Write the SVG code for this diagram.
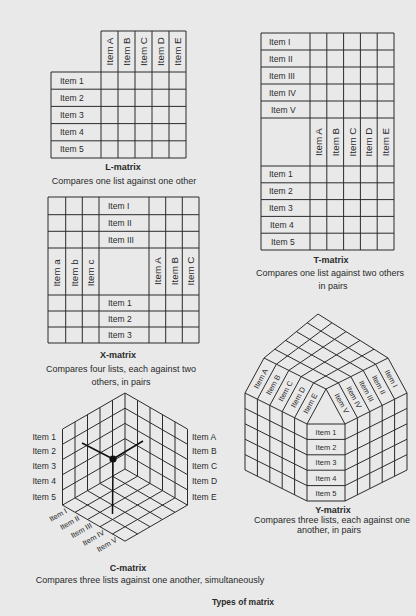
<svg xmlns="http://www.w3.org/2000/svg" width="416" height="616" viewBox="0 0 416 616">
<style>
.g{fill:none;stroke:#2b2b2b;stroke-width:1}
.t{font-family:"Liberation Sans",Arial,sans-serif;font-size:8.5px;fill:#2a2a2a}
.s{font-size:7.5px}
.r{font-size:9.8px}
.m{text-anchor:middle}
.e{text-anchor:end}
.cap{font-family:"Liberation Sans",Arial,sans-serif;font-size:9px;fill:#2a2a2a;text-anchor:middle}
.ttl{font-weight:bold}
</style>
<rect width="416" height="616" fill="#e9e9e9"/>

<g id="l-matrix">
<path class="g" d="M101,31H186 M51,72H186 M51,89.2H186 M51,106.4H186 M51,123.6H186 M51,140.8H186 M51,158H186 M51,72V158 M101,31V158 M118,31V158 M135,31V158 M152,31V158 M169,31V158 M186,31V158"/>
<g class="t">
<text x="60" y="83.6">Item 1</text><text x="60" y="100.8">Item 2</text><text x="60" y="118">Item 3</text><text x="60" y="135.2">Item 4</text><text x="60" y="152.4">Item 5</text>
</g>
<g class="t r m">
<text transform="translate(109.5,51.5) rotate(-90)" dy="3.5">Item A</text>
<text transform="translate(126.5,51.5) rotate(-90)" dy="3.5">Item B</text>
<text transform="translate(143.5,51.5) rotate(-90)" dy="3.5">Item C</text>
<text transform="translate(160.5,51.5) rotate(-90)" dy="3.5">Item D</text>
<text transform="translate(177.5,51.5) rotate(-90)" dy="3.5">Item E</text>
</g>
<text class="cap ttl" x="123" y="170">L-matrix</text>
<text class="cap" x="124" y="184">Compares one list against one other</text>
</g>

<g id="t-matrix">
<path class="g" d="M261,33H394 M261,50H394 M261,67H394 M261,84H394 M261,101H394 M261,118H394 M261,166H394 M261,182.8H394 M261,199.6H394 M261,216.4H394 M261,233.2H394 M261,250H394 M261,33V250 M310,33V250 M326.8,33V250 M343.6,33V250 M360.4,33V250 M377.2,33V250 M394,33V250"/>
<g class="t">
<text x="269" y="44.5">Item I</text><text x="269" y="61.5">Item II</text><text x="269" y="78.5">Item III</text><text x="269" y="95.5">Item IV</text><text x="271" y="112.5">Item V</text>
<text x="269" y="177.4">Item 1</text><text x="269" y="194.2">Item 2</text><text x="269" y="211">Item 3</text><text x="270" y="227.8">Item 4</text><text x="271" y="244.6">Item 5</text>
</g>
<g class="t r m">
<text transform="translate(318.4,142) rotate(-90)" dy="3.5">Item A</text>
<text transform="translate(335.2,142) rotate(-90)" dy="3.5">Item B</text>
<text transform="translate(352,142) rotate(-90)" dy="3.5">Item C</text>
<text transform="translate(368.8,142) rotate(-90)" dy="3.5">Item D</text>
<text transform="translate(385.6,142) rotate(-90)" dy="3.5">Item E</text>
</g>
<text class="cap ttl" x="331" y="263">T-matrix</text>
<text class="cap" x="330" y="276">Compares one list against two others</text>
<text class="cap" x="333" y="289">in pairs</text>
</g>

<g id="x-matrix">
<path class="g" d="M48,197H199 M48,214.7H199 M48,231.3H199 M48,248H199 M48,295H199 M48,311H199 M48,327H199 M48,343H199 M48,197V343 M65.7,197V343 M82.3,197V343 M99,197V343 M149,197V343 M165.7,197V343 M182.3,197V343 M199,197V343"/>
<g class="t">
<text x="108" y="208.8">Item I</text><text x="108" y="226">Item II</text><text x="108" y="242.7">Item III</text>
<text x="108" y="306">Item 1</text><text x="108" y="322">Item 2</text><text x="108" y="338">Item 3</text>
</g>
<g class="t r m">
<text transform="translate(56.8,273) rotate(-90)" dy="3.5">Item a</text>
<text transform="translate(74,273) rotate(-90)" dy="3.5">Item b</text>
<text transform="translate(90.7,273) rotate(-90)" dy="3.5">Item c</text>
<text transform="translate(157.3,271) rotate(-90)" dy="3.5">Item A</text>
<text transform="translate(174,271) rotate(-90)" dy="3.5">Item B</text>
<text transform="translate(190.7,271) rotate(-90)" dy="3.5">Item C</text>
</g>
<text class="cap ttl" x="118" y="357.5">X-matrix</text>
<text class="cap" x="121" y="372">Compares four lists, each against two</text>
<text class="cap" x="121" y="384.5">others, in pairs</text>
</g>

<g id="c-matrix">
<path class="g" d="M62.5,429.08V505.08 M75,421.86V497.86 M87.5,414.65V490.65 M100,407.43V483.43 M112.5,400.22V476.22 M125,393V469
M62.5,429.08L125,393 M62.5,444.28L125,408.2 M62.5,459.48L125,423.4 M62.5,474.68L125,438.6 M62.5,489.88L125,453.8 M62.5,505.08L125,469
M187.5,429.08V505.08 M175,421.86V497.86 M162.5,414.65V490.65 M150,407.43V483.43 M137.5,400.22V476.22
M187.5,429.08L125,393 M187.5,444.28L125,408.2 M187.5,459.48L125,423.4 M187.5,474.68L125,438.6 M187.5,489.88L125,453.8 M187.5,505.08L125,469
M137.5,476.22L75,512.3 M150,483.43L87.5,519.51 M162.5,490.65L100,526.73 M175,497.87L112.5,533.95 M187.5,505.08L125,541.16
M112.5,476.22L175,512.3 M100,483.43L162.5,519.51 M87.5,490.65L150,526.73 M75,497.87L137.5,533.95 M62.5,505.08L125,541.16"/>
<path d="M113,459L82,443 M113,459L143,441 M113,459L112.5,514" fill="none" stroke="#111" stroke-width="1.5"/>
<circle cx="113" cy="459" r="3.6" fill="#111"/>
<g class="t e">
<text x="56" y="440">Item 1</text><text x="56" y="454">Item 2</text><text x="56" y="469">Item 3</text><text x="56" y="484">Item 4</text><text x="56" y="500">Item 5</text>
</g>
<g class="t">
<text x="192" y="440">Item A</text><text x="192" y="454">Item B</text><text x="192" y="469">Item C</text><text x="192" y="484">Item D</text><text x="192" y="500">Item E</text>
</g>
<g class="t s e">
<text transform="translate(66.2,510.2) rotate(-30)" dy="2.6">Item I</text>
<text transform="translate(78.7,517.4) rotate(-30)" dy="2.6">Item II</text>
<text transform="translate(91.2,524.6) rotate(-30)" dy="2.6">Item III</text>
<text transform="translate(103.7,531.8) rotate(-30)" dy="2.6">Item IV</text>
<text transform="translate(116.2,539.1) rotate(-30)" dy="2.6">Item V</text>
</g>
<text class="cap ttl" x="128" y="571">C-matrix</text>
<text class="cap" x="150" y="583">Compares three lists against one another, simultaneously</text>
</g>

<g id="y-matrix">
<path class="g" d="M318,314L388,358 M307.2,322.8L375.6,364.2 M296.4,331.6L363.2,370.4 M285.6,340.4L350.8,376.6 M274.8,349.2L338.4,382.8 M264,358L326,389
M318,314L264,358 M332,322.8L276.4,364.2 M346,331.6L288.8,370.4 M360,340.4L301.2,376.6 M374,349.2L313.6,382.8 M388,358L326,389
M264,358L245,393 M276.4,364.2L257.4,399.2 M288.8,370.4L269.8,405.4 M301.2,376.6L282.2,411.6 M313.6,382.8L294.6,417.8 M326,389L307,424
M326,389L345,424 M338.4,382.8L357.4,417.8 M350.8,376.6L369.8,411.6 M363.2,370.4L382.2,405.4 M375.6,364.2L394.6,399.2 M388,358L407,393
M245,393V470 M257.4,399.2V476.2 M269.8,405.4V482.4 M282.2,411.6V488.6 M294.6,417.8V494.8 M307,424V501
M245,393L307,424 M245,408.4L307,439.4 M245,423.8L307,454.8 M245,439.2L307,470.2 M245,454.6L307,485.6 M245,470L307,501
M345,424V501 M357.4,417.8V494.8 M369.8,411.6V488.6 M382.2,405.4V482.4 M394.6,399.2V476.2 M407,393V470
M407,393L345,424 M407,408.4L345,439.4 M407,423.8L345,454.8 M407,439.2L345,470.2 M407,454.6L345,485.6 M407,470L345,501
M307,424H345 M307,439.4H345 M307,454.8H345 M307,470.2H345 M307,485.6H345 M307,501H345"/>
<g class="t s m">
<text x="326" y="434.5">Item 1</text><text x="326" y="449.9">Item 2</text><text x="326" y="465.3">Item 3</text><text x="326" y="480.7">Item 4</text><text x="326" y="496.1">Item 5</text>
<text transform="translate(260.7,378.6) rotate(-61.5)" dy="2.6">Item A</text>
<text transform="translate(273.1,384.8) rotate(-61.5)" dy="2.6">Item B</text>
<text transform="translate(285.5,391) rotate(-61.5)" dy="2.6">Item C</text>
<text transform="translate(297.9,397.2) rotate(-61.5)" dy="2.6">Item D</text>
<text transform="translate(310.3,403.4) rotate(-61.5)" dy="2.6">Item E</text>
<text transform="translate(341.7,403.4) rotate(61.5)" dy="2.6">Item V</text>
<text transform="translate(354.1,397.2) rotate(61.5)" dy="2.6">Item IV</text>
<text transform="translate(366.5,391) rotate(61.5)" dy="2.6">Item III</text>
<text transform="translate(378.9,384.8) rotate(61.5)" dy="2.6">Item II</text>
<text transform="translate(391.3,378.6) rotate(61.5)" dy="2.6">Item I</text>
</g>
<text class="cap ttl" x="333" y="513">Y-matrix</text>
<text class="cap" x="332" y="523">Compares three lists, each against one</text>
<text class="cap" x="329" y="532.5">another, in pairs</text>
</g>

<text class="cap ttl" x="243" y="605" style="font-size:8.5px">Types of matrix</text>
</svg>
